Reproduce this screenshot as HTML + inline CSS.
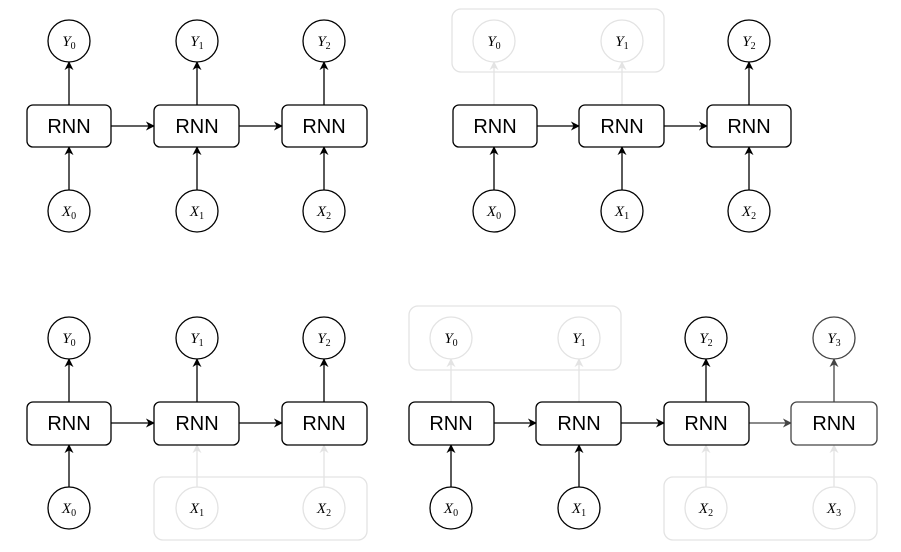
<!DOCTYPE html>
<html><head><meta charset="utf-8"><style>
html,body{margin:0;padding:0;background:#fff;}
svg{display:block;}
.b{fill:#fff;stroke:#000;stroke-width:1.3;}
.g{fill:#fff;stroke:#444;stroke-width:1.3;}
.f{fill:none;stroke:#e3e3e3;stroke-width:1.3;}
.l{stroke:#000;stroke-width:1.3;}
.lg{stroke:#444;stroke-width:1.3;}
.lf{stroke:#e3e3e3;stroke-width:1.3;}
.r{font-family:"Liberation Sans",sans-serif;font-size:20px;text-anchor:middle;}
.m{font-family:"Liberation Serif",serif;font-style:italic;font-size:15px;text-anchor:middle;}
.s{font-size:10px;font-style:normal;}
</style></head><body>
<svg width="901" height="552" viewBox="0 0 901 552" xmlns="http://www.w3.org/2000/svg">
<defs>
<marker id="a" viewBox="0 0 10 10" refX="9" refY="5" markerWidth="9" markerHeight="9" markerUnits="userSpaceOnUse" orient="auto"><path d="M0,0L10,5L0,10L3,5z" fill="#000"/></marker>
<marker id="ag" viewBox="0 0 10 10" refX="9" refY="5" markerWidth="9" markerHeight="9" markerUnits="userSpaceOnUse" orient="auto"><path d="M0,0L10,5L0,10L3,5z" fill="#444"/></marker>
<marker id="af" viewBox="0 0 10 10" refX="9" refY="5" markerWidth="9" markerHeight="9" markerUnits="userSpaceOnUse" orient="auto"><path d="M0,0L10,5L0,10L3,5z" fill="#e3e3e3"/></marker>
</defs>

<!-- Panel 1 top-left -->
<g>
<line class="l" x1="69" y1="105" x2="69" y2="62" marker-end="url(#a)"/>
<line class="l" x1="197" y1="105" x2="197" y2="62" marker-end="url(#a)"/>
<line class="l" x1="324" y1="105" x2="324" y2="62" marker-end="url(#a)"/>
<line class="l" x1="69" y1="190" x2="69" y2="147" marker-end="url(#a)"/>
<line class="l" x1="197" y1="190" x2="197" y2="147" marker-end="url(#a)"/>
<line class="l" x1="324" y1="190" x2="324" y2="147" marker-end="url(#a)"/>
<line class="l" x1="111" y1="126" x2="154" y2="126" marker-end="url(#a)"/>
<line class="l" x1="239" y1="126" x2="282" y2="126" marker-end="url(#a)"/>
<circle class="b" cx="69" cy="41" r="21"/><circle class="b" cx="197" cy="41" r="21"/><circle class="b" cx="324" cy="41" r="21"/>
<circle class="b" cx="69" cy="211" r="21"/><circle class="b" cx="197" cy="211" r="21"/><circle class="b" cx="324" cy="211" r="21"/>
<rect class="b" x="27" y="105" width="84" height="42" rx="6"/>
<rect class="b" x="154" y="105" width="85" height="42" rx="6"/>
<rect class="b" x="282" y="105" width="85" height="42" rx="6"/>
<text class="r" x="69" y="133">RNN</text><text class="r" x="197" y="133">RNN</text><text class="r" x="324" y="133">RNN</text>
<text class="m" x="69" y="46">Y<tspan class="s" dy="3">0</tspan></text>
<text class="m" x="197" y="46">Y<tspan class="s" dy="3">1</tspan></text>
<text class="m" x="324" y="46">Y<tspan class="s" dy="3">2</tspan></text>
<text class="m" x="69" y="216">X<tspan class="s" dy="3">0</tspan></text>
<text class="m" x="197" y="216">X<tspan class="s" dy="3">1</tspan></text>
<text class="m" x="324" y="216">X<tspan class="s" dy="3">2</tspan></text>
</g>

<!-- Panel 2 top-right -->
<g>
<rect class="f" x="452" y="9" width="212" height="63" rx="9"/>
<line class="lf" x1="494" y1="105" x2="494" y2="62" marker-end="url(#af)"/>
<line class="lf" x1="622" y1="105" x2="622" y2="62" marker-end="url(#af)"/>
<line class="l" x1="749" y1="105" x2="749" y2="62" marker-end="url(#a)"/>
<line class="l" x1="494" y1="190" x2="494" y2="147" marker-end="url(#a)"/>
<line class="l" x1="622" y1="190" x2="622" y2="147" marker-end="url(#a)"/>
<line class="l" x1="749" y1="190" x2="749" y2="147" marker-end="url(#a)"/>
<line class="l" x1="537" y1="126" x2="579" y2="126" marker-end="url(#a)"/>
<line class="l" x1="664" y1="126" x2="707" y2="126" marker-end="url(#a)"/>
<circle class="f" cx="494" cy="41" r="21"/><circle class="f" cx="622" cy="41" r="21"/><circle class="b" cx="749" cy="41" r="21"/>
<circle class="b" cx="494" cy="211" r="21"/><circle class="b" cx="622" cy="211" r="21"/><circle class="b" cx="749" cy="211" r="21"/>
<rect class="b" x="453" y="105" width="84" height="42" rx="6"/>
<rect class="b" x="579" y="105" width="85" height="42" rx="6"/>
<rect class="b" x="707" y="105" width="84" height="42" rx="6"/>
<text class="r" x="495" y="133">RNN</text><text class="r" x="622" y="133">RNN</text><text class="r" x="749" y="133">RNN</text>
<text class="m" x="494" y="46">Y<tspan class="s" dy="3">0</tspan></text>
<text class="m" x="622" y="46">Y<tspan class="s" dy="3">1</tspan></text>
<text class="m" x="749" y="46">Y<tspan class="s" dy="3">2</tspan></text>
<text class="m" x="494" y="216">X<tspan class="s" dy="3">0</tspan></text>
<text class="m" x="622" y="216">X<tspan class="s" dy="3">1</tspan></text>
<text class="m" x="749" y="216">X<tspan class="s" dy="3">2</tspan></text>
</g>

<!-- Panel 3 bottom-left -->
<g>
<rect class="f" x="154" y="477" width="213" height="63" rx="9"/>
<line class="l" x1="69" y1="402" x2="69" y2="359" marker-end="url(#a)"/>
<line class="l" x1="197" y1="402" x2="197" y2="359" marker-end="url(#a)"/>
<line class="l" x1="324" y1="402" x2="324" y2="359" marker-end="url(#a)"/>
<line class="l" x1="69" y1="487" x2="69" y2="445" marker-end="url(#a)"/>
<line class="lf" x1="197" y1="487" x2="197" y2="445" marker-end="url(#af)"/>
<line class="lf" x1="324" y1="487" x2="324" y2="445" marker-end="url(#af)"/>
<line class="l" x1="111" y1="423" x2="154" y2="423" marker-end="url(#a)"/>
<line class="l" x1="239" y1="423" x2="282" y2="423" marker-end="url(#a)"/>
<circle class="b" cx="69" cy="338" r="21"/><circle class="b" cx="197" cy="338" r="21"/><circle class="b" cx="324" cy="338" r="21"/>
<circle class="b" cx="69" cy="508" r="21"/><circle class="f" cx="197" cy="508" r="21"/><circle class="f" cx="324" cy="508" r="21"/>
<rect class="b" x="27" y="402" width="84" height="43" rx="6"/>
<rect class="b" x="154" y="402" width="85" height="43" rx="6"/>
<rect class="b" x="282" y="402" width="85" height="43" rx="6"/>
<text class="r" x="69" y="430">RNN</text><text class="r" x="197" y="430">RNN</text><text class="r" x="324" y="430">RNN</text>
<text class="m" x="69" y="343">Y<tspan class="s" dy="3">0</tspan></text>
<text class="m" x="197" y="343">Y<tspan class="s" dy="3">1</tspan></text>
<text class="m" x="324" y="343">Y<tspan class="s" dy="3">2</tspan></text>
<text class="m" x="69" y="513">X<tspan class="s" dy="3">0</tspan></text>
<text class="m" x="197" y="513">X<tspan class="s" dy="3">1</tspan></text>
<text class="m" x="324" y="513">X<tspan class="s" dy="3">2</tspan></text>
</g>

<!-- Panel 4 bottom-right -->
<g>
<rect class="f" x="409" y="306" width="212" height="64" rx="9"/>
<rect class="f" x="664" y="477" width="213" height="63" rx="9"/>
<line class="lf" x1="451" y1="402" x2="451" y2="359" marker-end="url(#af)"/>
<line class="lf" x1="579" y1="402" x2="579" y2="359" marker-end="url(#af)"/>
<line class="l" x1="706" y1="402" x2="706" y2="359" marker-end="url(#a)"/>
<line class="lg" x1="834" y1="402" x2="834" y2="359" marker-end="url(#ag)"/>
<line class="l" x1="451" y1="487" x2="451" y2="445" marker-end="url(#a)"/>
<line class="l" x1="579" y1="487" x2="579" y2="445" marker-end="url(#a)"/>
<line class="lf" x1="706" y1="487" x2="706" y2="445" marker-end="url(#af)"/>
<line class="lf" x1="834" y1="487" x2="834" y2="445" marker-end="url(#af)"/>
<line class="l" x1="494" y1="423" x2="536" y2="423" marker-end="url(#a)"/>
<line class="l" x1="621" y1="423" x2="664" y2="423" marker-end="url(#a)"/>
<line class="lg" x1="749" y1="423" x2="791" y2="423" marker-end="url(#ag)"/>
<circle class="f" cx="451" cy="338" r="21"/><circle class="f" cx="579" cy="338" r="21"/><circle class="b" cx="706" cy="338" r="21"/><circle class="g" cx="834" cy="338" r="21"/>
<circle class="b" cx="451" cy="508" r="21"/><circle class="b" cx="579" cy="508" r="21"/><circle class="f" cx="706" cy="508" r="21"/><circle class="f" cx="834" cy="508" r="21"/>
<rect class="b" x="409" y="402" width="85" height="43" rx="6"/>
<rect class="b" x="536" y="402" width="85" height="43" rx="6"/>
<rect class="b" x="664" y="402" width="85" height="43" rx="6"/>
<rect class="g" x="791" y="402" width="86" height="43" rx="6"/>
<text class="r" x="451" y="430">RNN</text><text class="r" x="579" y="430">RNN</text><text class="r" x="706" y="430">RNN</text><text class="r" x="834" y="430">RNN</text>
<text class="m" x="451" y="343">Y<tspan class="s" dy="3">0</tspan></text>
<text class="m" x="579" y="343">Y<tspan class="s" dy="3">1</tspan></text>
<text class="m" x="706" y="343">Y<tspan class="s" dy="3">2</tspan></text>
<text class="m" x="834" y="343">Y<tspan class="s" dy="3">3</tspan></text>
<text class="m" x="451" y="513">X<tspan class="s" dy="3">0</tspan></text>
<text class="m" x="579" y="513">X<tspan class="s" dy="3">1</tspan></text>
<text class="m" x="706" y="513">X<tspan class="s" dy="3">2</tspan></text>
<text class="m" x="834" y="513">X<tspan class="s" dy="3">3</tspan></text>
</g>
</svg>
</body></html>
